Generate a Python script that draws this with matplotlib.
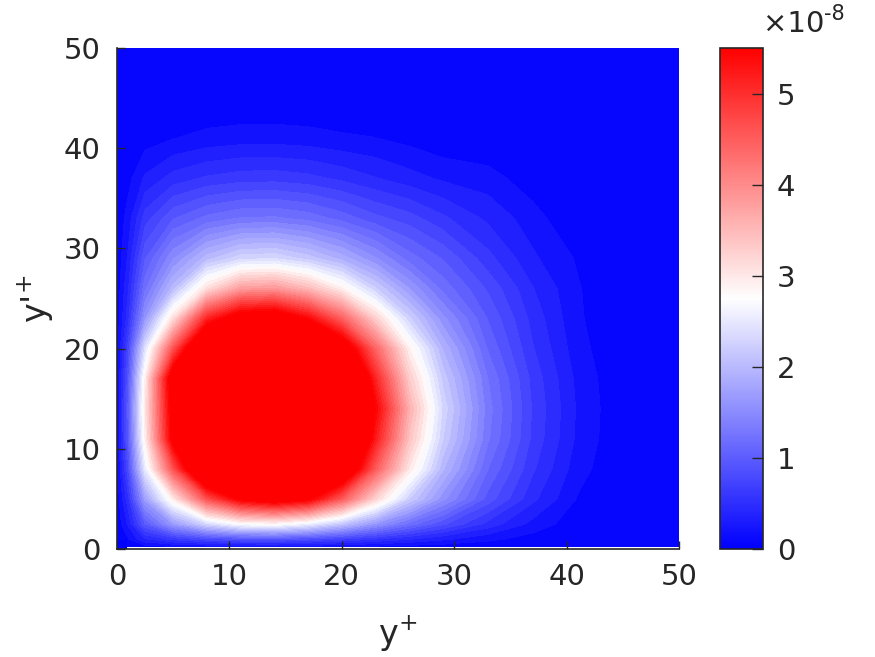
import numpy as np
import matplotlib
matplotlib.use("Agg")
import matplotlib.pyplot as plt
from matplotlib.colors import LinearSegmentedColormap, Normalize
from matplotlib.patches import Rectangle
import matplotlib.cm as cm

# grid nodes (y+ along x, y'+ along y)
x_nodes = [0, 1, 2.5, 5, 8, 11, 14, 17, 20, 23, 26, 29, 33, 37, 41, 45, 50]
y_nodes = [0.2, 1, 2.5, 5, 8, 11, 14, 17, 20, 23, 26, 29, 33, 37, 41, 45, 50]

# field values in units of 1e-8, one row per y node (bottom to top)
row_y0_2 = [0.001, 0.020, 0.064, 0.095, 0.115, 0.128, 0.130, 0.121, 0.102, 0.083, 0.064, 0.046, 0.026, 0.011, 0.001, 0, 0]
row_y1 = [0.013, 0.131, 0.40, 0.60, 0.78, 0.88, 0.90, 0.83, 0.702, 0.556, 0.425, 0.305, 0.178, 0.076, 0.009, 0, 0]
row_y2_5 = [0.035, 0.30, 0.95, 1.65, 2.30, 2.72, 2.80, 2.545, 2.107, 1.605, 1.18, 0.853, 0.499, 0.229, 0.046, 0, 0]
row_y5 = [0.05, 0.50, 1.70, 2.95, 4.60, 5.60, 5.90, 5.60, 4.50, 3.20, 2.20, 1.559, 0.905, 0.448, 0.125, 0, 0]
row_y8 = [0.07, 0.80, 2.50, 4.60, 6.90, 8.214, 8.317, 7.8, 6.43, 4.5, 3.0, 1.95, 1.103, 0.572, 0.195, 0.008, 0]
row_y11 = [0.08, 0.95, 2.90, 5.70, 8.2, 9.211, 9.291, 8.871, 7.6, 5.2, 3.4, 2.2, 1.261, 0.65, 0.241, 0.018, 0]
row_y14 = [0.08, 1.00, 3.00, 5.80, 8.5, 9.405, 9.47, 9.106, 7.9, 5.5, 3.6, 2.3, 1.301, 0.669, 0.254, 0.02, 0]
row_y17 = [0.07, 0.90, 2.90, 6.00, 8.2, 9.084, 9.163, 8.72, 7.45, 5.1, 3.3, 2.15, 1.238, 0.638, 0.234, 0.016, 0]
row_y20 = [0.06, 0.75, 2.40, 4.60, 6.9, 8.043, 8.146, 7.6, 6.1, 4.4, 2.9, 1.909, 1.085, 0.56, 0.19, 0.006, 0]
row_y23 = [0.05, 0.50, 1.60, 3.10, 5.1, 5.932, 6.065, 5.433, 4.459, 3.251, 2.236, 1.557, 0.95, 0.50, 0.16, 0, 0]
row_y26 = [0.04, 0.40, 1.20, 2.00, 3.1, 3.788, 3.868, 3.485, 2.904, 2.216, 1.651, 1.188, 0.80, 0.42, 0.15, 0, 0]
row_y29 = [0.03, 0.30, 0.95, 1.50, 2.0, 2.29, 2.329, 2.143, 1.868, 1.532, 1.173, 0.95, 0.60, 0.30, 0.12, 0, 0]
row_y33 = [0.02, 0.20, 0.62, 0.95, 1.144, 1.248, 1.263, 1.189, 1.047, 0.868, 0.75, 0.58, 0.38, 0.20, 0, 0, 0]
row_y37 = [0.009, 0.09, 0.30, 0.47, 0.572, 0.623, 0.630, 0.594, 0.514, 0.42, 0.33, 0.25, 0.20, 0.05, 0, 0, 0]
row_y41 = [0.001, 0.017, 0.068, 0.132, 0.182, 0.208, 0.211, 0.193, 0.16, 0.14, 0.09, 0.03, 0, 0, 0, 0, 0]
row_y45 = [0] * 17
row_y50 = [0] * 17

field_rows = [row_y0_2, row_y1, row_y2_5, row_y5, row_y8, row_y11, row_y14, row_y17,
              row_y20, row_y23, row_y26, row_y29, row_y33, row_y37, row_y41, row_y45, row_y50]

x_ticks = [0, 10, 20, 30, 40, 50]
y_ticks = [0, 10, 20, 30, 40, 50]
cbar_ticks = [0, 1, 2, 3, 4, 5]
c_max = 5.5

txt = (0.15, 0.15, 0.15)
plt.rcParams['font.family'] = ['DejaVu Sans']
plt.rcParams['mathtext.fontset'] = 'dejavusans'

cmap = LinearSegmentedColormap.from_list("bwr_m", [(0, 0, 1), (1, 1, 1), (1, 0, 0)], N=256)
cmap.set_over((1, 0, 0))

fig = plt.figure(figsize=(8.75, 6.57), dpi=100)
ax = fig.add_axes([117 / 875, 1 - 549 / 657, (679 - 117) / 875, (549 - 48) / 657])

X, Y = np.meshgrid(np.array(x_nodes), np.array(y_nodes))
Z = np.array(field_rows, dtype=float)
levels = np.linspace(0, c_max, 41)
ax.contourf(X, Y, Z, levels=levels, cmap=cmap, extend='max')
ax.add_patch(Rectangle((0, 0), 0.9, 0.9, color=(0, 0, 1), zorder=3, lw=0))

ax.set_xlim(0, 50)
ax.set_ylim(0, 50)
ax.set_xticks(x_ticks)
ax.set_yticks(y_ticks)
ax.tick_params(direction='in', length=6, width=1, colors=txt,
               labelsize=21, pad=12, top=False, right=False)
ax.tick_params(axis='x', pad=10)
for s in ['top', 'right']:
    ax.spines[s].set_visible(False)
for s in ['left', 'bottom']:
    ax.spines[s].set_color(txt)
    ax.spines[s].set_linewidth(1.2)
    ax.spines[s].set_zorder(5)

ax.set_xlabel(r"y$^{+}$", fontsize=24, color=txt, labelpad=17)
ax.set_ylabel(r"y'$^{+}$", fontsize=24, color=txt, labelpad=5)

cax = fig.add_axes([720 / 875, 1 - 549 / 657, 43 / 875, (549 - 48) / 657])
sm = cm.ScalarMappable(norm=Normalize(0, c_max), cmap=cmap)
cb = fig.colorbar(sm, cax=cax, ticks=cbar_ticks)
cb.outline.set_edgecolor(txt)
cb.outline.set_linewidth(1.2)
cax.tick_params(direction='in', length=8, width=1, colors=txt, labelsize=21, pad=10)
cax.set_yticklabels([str(t) for t in cbar_ticks])

fig.text(763 / 875, 1 - 10 / 657, "×10", fontsize=21, color=txt, ha='left', va='top')
fig.text(824 / 875, 1 - 24 / 657, "-8", fontsize=15, color=txt, ha='left', va='bottom')

fig.savefig("out.png", dpi=100)
